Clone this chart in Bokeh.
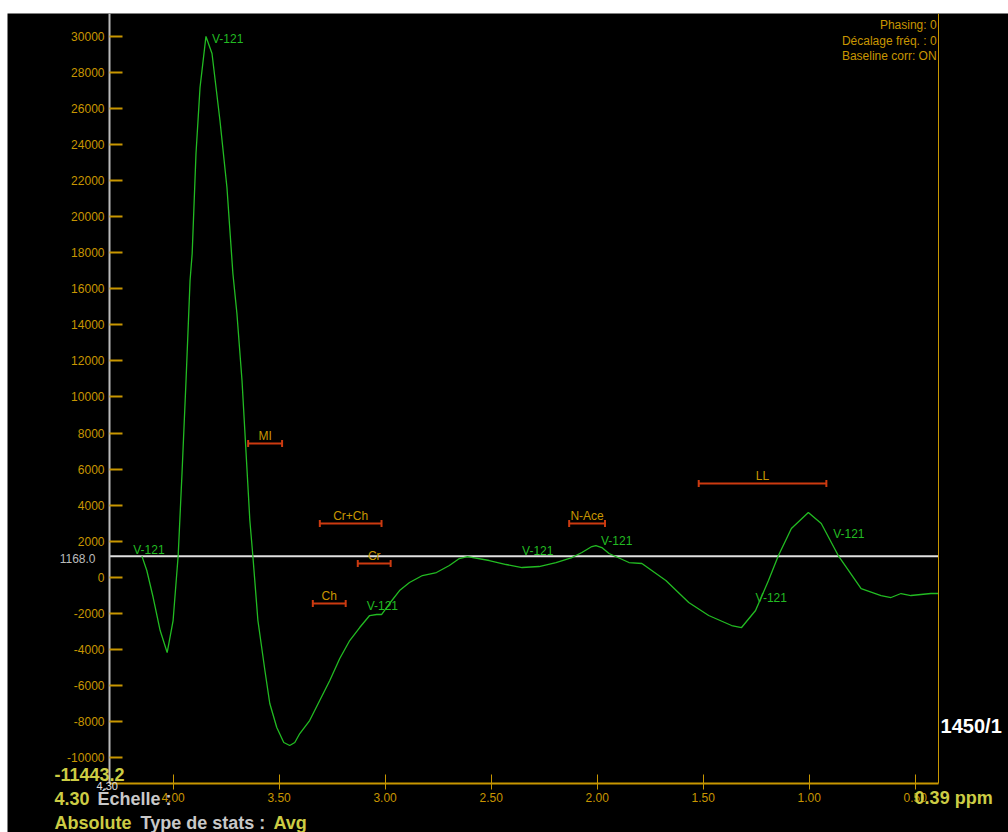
import numpy as np
from bokeh.plotting import figure
from bokeh.models import (Range1d, LinearAxis, FixedTicker, NumeralTickFormatter,
                          Label, Spacer, ColumnDataSource)
from bokeh.layouts import column, row
from bokeh.embed import file_html
from bokeh.resources import INLINE
from bokeh.core.properties import value

# ---------------- data ----------------
ppm = [4.147, 4.124, 4.094, 4.061, 4.028, 4.000, 3.976, 3.958, 3.939, 3.920, 3.910,
       3.892, 3.873, 3.845, 3.8165, 3.779, 3.746, 3.718, 3.699, 3.675, 3.652, 3.638,
       3.624, 3.600, 3.567, 3.544, 3.511, 3.478, 3.450, 3.426, 3.4025, 3.356, 3.3085,
       3.261, 3.214, 3.167, 3.120, 3.073, 3.040, 3.017, 2.979, 2.932, 2.885, 2.824,
       2.758, 2.697, 2.650, 2.612, 2.509, 2.429, 2.354, 2.274, 2.194, 2.119, 2.072,
       2.025, 2.006, 1.978, 1.944, 1.850, 1.789, 1.676, 1.568, 1.474, 1.366, 1.319,
       1.253, 1.192, 1.145, 1.084, 1.004, 0.943, 0.863, 0.755, 0.661, 0.614, 0.567,
       0.520, 0.426, 0.390]
intensity = [1168, 372, -1126, -2957, -4178, -2402, 1204, 5753, 10913, 16461, 17959,
             23507, 27169, 30000, 29055, 25338, 21621, 16849, 14630, 10913, 6086, 3146,
             1204, -2402, -5176, -7007, -8339, -9171, -9337, -9171, -8672, -7950, -6841,
             -5731, -4511, -3512, -2791, -2125, -2069, -2069, -1459, -738, -294, 94,
             261, 649, 1037, 1148, 927, 705, 538, 594, 816, 1093, 1370,
             1703, 1759, 1648, 1315, 815, 760, -183, -1404, -2125, -2680, -2791,
             -1848, -183, 1204, 2702, 3590, 2979, 1204, -627, -1015, -1126, -904,
             -1015, -904, -904]

baseline_value = 1168.0
y_min = -11443.2
y_top = 31273
ppm_left = 4.30
ppm_right = 0.39

# metabolite region bars
met_names = ["MI", "Cr+Ch", "Cr", "Ch", "N-Ace", "LL"]
met_start = [3.646, 3.308, 3.129, 3.341, 2.132, 1.521]
met_end = [3.486, 3.017, 2.974, 3.186, 1.963, 0.919]
met_level = [7418, 2979, 760, -1459, 2979, 5198]

# peak labels
pk_ppm = [4.188, 3.8165, 3.087, 2.354, 1.982, 1.253, 0.887]
pk_val = [1537, 29832, -1570, 1481, 2036, -1126, 2424]
pk_text = ["V-121"] * 7

y_ticks = list(range(-10000, 30001, 2000))
x_ticks = [4.0, 3.5, 3.0, 2.5, 2.0, 1.5, 1.0, 0.5]

status_lines = ["Phasing: 0", "Décalage fréq. : 0", "Baseline corr: ON"]

# ---------------- style ----------------
ORANGE = "#c89600"
GREEN = "#22bb22"
BAR = "#cc3a10"
YELLOW = "#cccc44"
GREY = "#c8c8c8"
FONT = "Liberation Sans"

# the frame covers the whole canvas; axes are placed at fixed data locations
p = figure(width=1001, height=819, output_backend="svg", toolbar_location=None,
           x_range=Range1d(4.781, 0.060), y_range=Range1d(-14162, y_top),
           x_axis_location=None, y_axis_location=None)
p.background_fill_color = "black"
p.border_fill_color = "black"
p.outline_line_color = None
p.min_border = 0
p.min_border_left = 0
p.min_border_right = 0
p.min_border_top = 0
p.min_border_bottom = 0
p.xgrid.visible = False
p.ygrid.visible = False

yax = LinearAxis(ticker=FixedTicker(ticks=y_ticks), fixed_location=ppm_left,
                 bounds=(y_min, y_top))
yax.axis_line_color = "#bbbbbb"
yax.axis_line_width = 2
yax.major_tick_line_color = ORANGE
yax.major_tick_line_width = 2
yax.major_tick_in = 13
yax.major_tick_out = 0
yax.minor_tick_line_color = None
yax.major_label_text_color = ORANGE
yax.major_label_text_font = FONT
yax.major_label_text_font_size = "12px"
yax.major_label_standoff = 5
yax.formatter = NumeralTickFormatter(format="0")
p.add_layout(yax, "left")

xax = LinearAxis(ticker=FixedTicker(ticks=x_ticks), fixed_location=y_min,
                 bounds=(ppm_right, ppm_left))
xax.axis_line_color = ORANGE
xax.axis_line_width = 2
xax.major_tick_line_color = ORANGE
xax.major_tick_line_width = 1
xax.major_tick_in = 9
xax.major_tick_out = 6
xax.minor_tick_line_color = None
xax.major_label_text_color = ORANGE
xax.major_label_text_font = FONT
xax.major_label_text_font_size = "12px"
xax.major_label_standoff = 4
xax.formatter = NumeralTickFormatter(format="0.00")
p.add_layout(xax, "below")

rax = LinearAxis(ticker=FixedTicker(ticks=[]), fixed_location=ppm_right,
                 bounds=(y_min, y_top))
rax.axis_line_color = ORANGE
rax.axis_line_width = 1
rax.major_tick_line_color = None
rax.minor_tick_line_color = None
rax.major_label_text_font_size = "0px"
p.add_layout(rax, "right")

# baseline
p.segment(x0=[ppm_left], y0=[baseline_value], x1=[ppm_right], y1=[baseline_value],
          line_color="#e0e0e0", line_width=2)

# spectrum
p.line(ppm, intensity, line_color=GREEN, line_width=1.3)

# peak labels
p.text(x=pk_ppm, y=pk_val, text=pk_text, text_color=GREEN, text_font=value(FONT),
       text_font_size="12px", text_baseline="middle", text_align="left")

# metabolite bars
src = ColumnDataSource(dict(x0=met_start, x1=met_end, y=met_level, name=met_names,
                            xm=[(a + b) / 2 for a, b in zip(met_start, met_end)]))
p.segment(x0="x0", y0="y", x1="x1", y1="y", source=src, line_color=BAR, line_width=2)
p.scatter(x="x0", y="y", source=src, marker="dash", angle=np.pi / 2, size=7,
          line_color=BAR, line_width=2)
p.scatter(x="x1", y="y", source=src, marker="dash", angle=np.pi / 2, size=7,
          line_color=BAR, line_width=2)
p.text(x="xm", y="y", text="name", source=src, text_color=ORANGE, text_font=value(FONT),
       text_font_size="12px", text_baseline="bottom", text_align="center", y_offset=-1)


def lab(x, y, t, color, size="18px", bold=True, align="left"):
    p.add_layout(Label(x=x, y=y, text=t, text_color=color, text_font=FONT,
                       text_font_size=size,
                       text_font_style="bold" if bold else "normal",
                       text_align=align, text_baseline="middle"))


# status text (top right)
for i, t in enumerate(status_lines):
    lab(0.399, 30608 - i * 860, t, ORANGE, size="12px", bold=False, align="right")

# baseline value label
lab(4.366, baseline_value - 120, "%.1f" % baseline_value, "#bbbbbb", size="12px",
    bold=False, align="right")

# bottom-left / right info texts
lab(4.5594, -10946, "%.1f" % y_min, YELLOW)
lab(4.3613, -11556, "%.2f" % ppm_left, "#e0e0e0", size="11px", bold=False)
lab(4.5594, -12277, "%.2f" % ppm_left, YELLOW)
lab(4.3566, -12277, "Échelle :", GREY)
lab(4.5594, -13609, "Absolute", YELLOW)
lab(4.1538, -13609, "Type de stats :", GREY)
lab(3.5264, -13609, "Avg", YELLOW)
lab(0.5028, -12222, "%.2f ppm" % ppm_right, YELLOW)
lab(0.3802, -8228, "1450/1", "#ffffff", size="20px")

layout = column(Spacer(height=13, width=1008), row(Spacer(width=7, height=819), p))
open("out.html", "w").write(file_html(layout, INLINE))
